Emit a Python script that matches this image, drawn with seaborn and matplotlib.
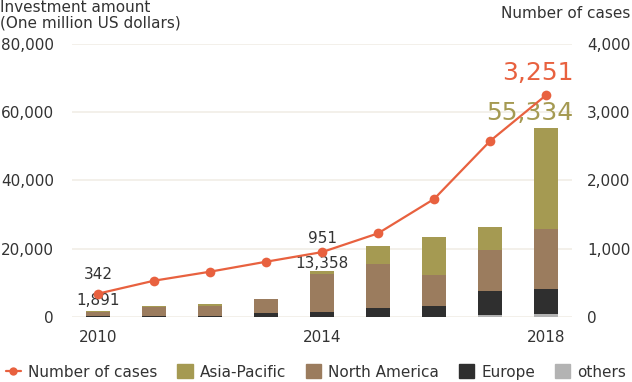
import matplotlib
matplotlib.use('Agg')
import matplotlib.pyplot as plt
import seaborn as sns
import pandas as pd
from matplotlib.patches import Patch
from matplotlib.lines import Line2D

# データ
years = ['2010', '2011', '2012', '2013', '2014', '2015', '2016', '2017', '2018']
asia_pacific = [371, 400, 600, 150, 700, 5300, 11050, 6700, 29634]
north_america = [1150, 2550, 2900, 4200, 11078, 13000, 9100, 12050, 17600]
europe = [350, 350, 300, 1000, 1500, 2450, 3050, 7100, 7200]
others = [20, 50, 50, 50, 80, 100, 150, 600, 900]
cases = [342, 532, 664, 810, 951, 1226, 1729, 2579, 3251]
tick_years = ['2010', '2014', '2018']

c_ap = '#a59a52'
c_na = '#9b7c5e'
c_eu = '#2f2f2f'
c_ot = '#b3b3b3'
c_line = '#e8613f'
c_text = '#333333'

sns.set_theme(style='white')
plt.rcParams['font.family'] = ['DejaVu Sans']

df = pd.DataFrame({'year': years, 'ap': asia_pacific, 'na': north_america,
                   'eu': europe, 'ot': others, 'cases': cases})
df['s_ot'] = df['ot']
df['s_eu'] = df['s_ot'] + df['eu']
df['s_na'] = df['s_eu'] + df['na']
df['s_ap'] = df['s_na'] + df['ap']

fig = plt.figure(figsize=(6.32, 3.82), dpi=100)
ax = fig.add_axes([0.114, 0.170, 0.791, 0.715])

# 積み上げ棒（累積値を後ろから描く）
for col, color in [('s_ap', c_ap), ('s_na', c_na), ('s_eu', c_eu), ('s_ot', c_ot)]:
    sns.barplot(data=df, x='year', y=col, color=color, width=0.43,
                saturation=1, ax=ax, zorder=2, linewidth=0, edgecolor='none')

ax.set_ylim(0, 80000)
ax.set_xlim(-0.46, 8.46)
ax.set_yticks([0, 20000, 40000, 60000, 80000])
ax.set_yticklabels(['0', '20,000', '40,000', '60,000', '80,000'])
ax.set_xticks([years.index(y) for y in tick_years])
ax.set_xticklabels(tick_years)
ax.set_xlabel('')
ax.set_ylabel('')
ax.grid(axis='y', color='#f1eee6', linewidth=1.2, zorder=0)
ax.set_axisbelow(True)
for s in ax.spines.values():
    s.set_visible(False)
ax.tick_params(axis='y', length=0, pad=13, labelsize=11, labelcolor=c_text)
ax.tick_params(axis='x', length=0, pad=9, labelsize=11, labelcolor=c_text)

# 件数の折れ線
ax2 = ax.twinx()
sns.lineplot(x=list(range(len(years))), y=df['cases'], ax=ax2, color=c_line,
             linewidth=1.6, marker='o', markersize=7, markeredgewidth=0, zorder=3)
ax2.set_ylim(0, 4000)
ax2.set_yticks([0, 1000, 2000, 3000, 4000])
ax2.set_yticklabels(['0', '1,000', '2,000', '3,000', '4,000'])
ax2.set_ylabel('')
ax2.grid(False)
for s in ax2.spines.values():
    s.set_visible(False)
ax2.tick_params(axis='y', length=0, pad=11, labelsize=11, labelcolor=c_text)

# 注記
ax2.text(0, cases[0] + 280, f'{cases[0]:,}', ha='center', va='center', fontsize=11, color=c_text)
ax.text(0, df['s_ap'][0] + 2850, f"{df['s_ap'][0]:,}", ha='center', va='center', fontsize=11, color=c_text)
ax2.text(4, cases[4] + 206, f'{cases[4]:,}', ha='center', va='center', fontsize=11, color=c_text)
ax.text(4, df['s_ap'][4] + 2330, f"{df['s_ap'][4]:,}", ha='center', va='center', fontsize=11, color=c_text)
ax2.text(7.85, cases[8] + 324, f'{cases[8]:,}', ha='center', va='center', fontsize=18, color=c_line)
ax.text(7.71, df['s_ap'][8] + 4450, f"{df['s_ap'][8]:,}", ha='center', va='center', fontsize=18, color=c_ap)

# 軸タイトル
fig.text(0.0, 1 - 7 / 382, 'Investment amount', ha='left', va='center', fontsize=11, color=c_text)
fig.text(0.0, 1 - 23 / 382, '(One million US dollars)', ha='left', va='center', fontsize=11, color=c_text)
fig.text(0.997, 1 - 14 / 382, 'Number of cases', ha='right', va='center', fontsize=11, color=c_text)

# 凡例
handles = [
    Line2D([0], [0], color=c_line, lw=1.6, marker='o', markersize=6, markeredgewidth=0),
    Patch(color=c_ap), Patch(color=c_na), Patch(color=c_eu), Patch(color=c_ot),
]
labels = ['Number of cases', 'Asia-Pacific', 'North America', 'Europe', 'others']
fig.legend(handles, labels, loc='center', bbox_to_anchor=(0.5, 1 - 372 / 382), ncol=5,
           frameon=False, fontsize=11, handlelength=1.0, handleheight=1.0,
           handletextpad=0.46, columnspacing=1.3, labelcolor=c_text)

fig.savefig('out.png', dpi=100)
